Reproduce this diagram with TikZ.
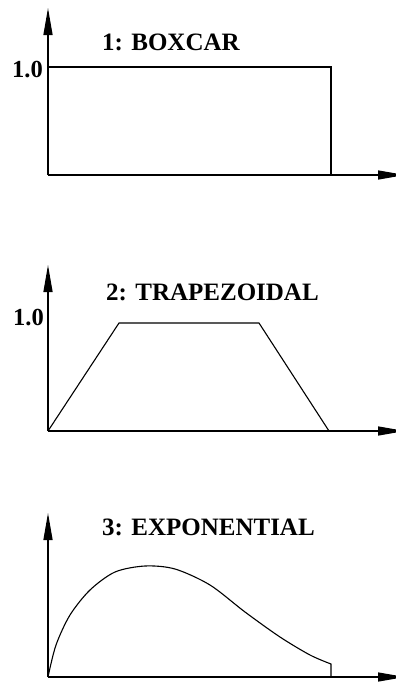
\documentclass[tikz,border=0pt]{standalone}
\usepackage{fontspec}
\setmainfont{Liberation Serif}
\usetikzlibrary{arrows.meta}
\begin{document}
\begin{tikzpicture}[x=1pt,y=-1pt,
  axis/.style={line width=1.3pt,-{Triangle[length=27pt,width=9pt]}},
  curve/.style={line width=1.1pt},
  title/.style={anchor=base west,inner sep=0pt,font=\fontsize{25}{30}\selectfont\bfseries},
  ylab/.style={anchor=base east,inner sep=0pt,font=\fontsize{24.5}{30}\selectfont\bfseries}]
\useasboundingbox (0,0) rectangle (396,683);
% panel 1
\coordinate (o1) at (48,175);
\coordinate (y1) at (48,8);
\coordinate (x1) at (405,175);
\draw[axis] (o1) -- (y1);
\draw[axis] (o1) -- (x1);
\draw[curve] (48,67) -- (331,67) -- (331,175);
\node[title] (t1) at (102,50) {1: BOXCAR};
\node[ylab] (l1) at (43,77) {1.0};
% panel 2
\coordinate (o2) at (48,431);
\coordinate (y2) at (48,265);
\coordinate (x2) at (405,431);
\draw[axis] (o2) -- (y2);
\draw[axis] (o2) -- (x2);
\draw[curve] (o2) -- (119,323) -- (259,323) -- (329,431);
\node[title] (t2) at (106,300) {2: TRAPEZOIDAL};
\node[ylab] (l2) at (44,325) {1.0};
% panel 3
\coordinate (o3) at (48,677);
\coordinate (y3) at (48,513);
\coordinate (x3) at (405,677);
\draw[axis] (o3) -- (y3);
\draw[axis] (o3) -- (x3);
\draw[curve] plot[smooth] coordinates {(48,677) (56,645) (70,615) (90,590) (115,572) (145,566) (175,569) (210,585) (245,612) (280,637) (310,655) (331,664)} -- (331,677);
\node[title] (t3) at (102,535) {3: EXPONENTIAL};
\end{tikzpicture}
\end{document}
